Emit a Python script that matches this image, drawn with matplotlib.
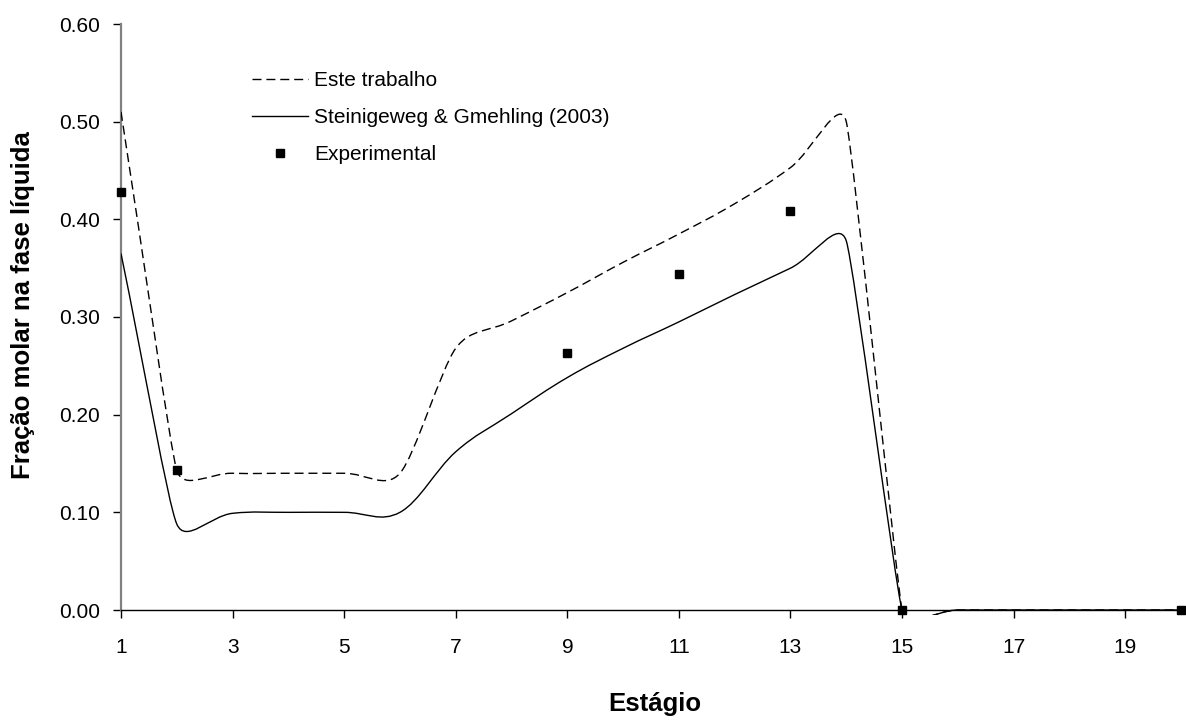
import numpy as np
import matplotlib
matplotlib.use('Agg')
import matplotlib.pyplot as plt
from matplotlib.path import Path
from matplotlib.patches import PathPatch, Rectangle
from matplotlib.lines import Line2D
from matplotlib.ticker import FormatStrFormatter

plt.rcParams['font.family'] = ['Liberation Sans', 'DejaVu Sans']

# Data (stage 1..20)
stages = np.arange(1, 21)
este_trabalho = [0.510, 0.143, 0.140, 0.140, 0.140, 0.140, 0.268, 0.296, 0.325, 0.356,
                 0.385, 0.416, 0.453, 0.500, 0.0, 0.0, 0.0, 0.0, 0.0, 0.0]
steinigeweg = [0.365, 0.088, 0.099, 0.100, 0.100, 0.100, 0.162, 0.201, 0.238, 0.268,
               0.295, 0.323, 0.350, 0.378, 0.0, 0.0, 0.0, 0.0, 0.0, 0.0]
exp_stages = [1, 2, 9, 11, 13, 15, 20]
exp_values = [0.428, 0.143, 0.263, 0.344, 0.409, 0.0, 0.0]

x_ticks = [1, 3, 5, 7, 9, 11, 13, 15, 17, 19]
y_ticks = [0.0, 0.1, 0.2, 0.3, 0.4, 0.5, 0.6]


# Excel-like smoothed line: cubic Bezier segments built in display space
def smooth_path(ax, x, y, k=0.4):
    pts = ax.transData.transform(np.column_stack([x, y]))
    n = len(pts)
    seg = np.hypot(*np.diff(pts, axis=0).T)

    def unit(v):
        norm = np.hypot(v[0], v[1])
        return v / norm if norm > 0 else v

    verts = [pts[0]]
    for i in range(n - 1):
        p0, p1 = pts[i], pts[i + 1]
        t0 = unit(pts[min(i + 1, n - 1)] - pts[max(i - 1, 0)])
        t1 = unit(pts[min(i + 2, n - 1)] - pts[i])
        # control arm length limited by the shorter neighbouring segment
        a0 = k * min(seg[i], seg[i - 1]) if i > 0 else k * seg[i]
        a1 = k * min(seg[i], seg[i + 1]) if i + 1 < n - 1 else k * seg[i]
        verts += [p0 + t0 * a0, p1 - t1 * a1, p1]
    verts = ax.transData.inverted().transform(np.array(verts))
    codes = [Path.MOVETO] + [Path.CURVE4] * (3 * (n - 1))
    return Path(verts, codes)


fig = plt.figure(figsize=(11.86, 7.2), dpi=100)
ax = fig.add_axes([121 / 1186, 1 - 610 / 720, 1060 / 1186, 586 / 720])
ax.set_xlim(1, 20)
ax.set_ylim(0, 0.6)

clip = Rectangle((0, -0.009), 1, 1.02, transform=ax.transAxes, visible=False)
ax.add_patch(clip)

p1 = PathPatch(smooth_path(ax, stages, steinigeweg), fill=False, edgecolor='black',
               linewidth=1.0, zorder=3)
ax.add_patch(p1)
p1.set_clip_path(clip)

p2 = PathPatch(smooth_path(ax, stages, este_trabalho), fill=False, edgecolor='black',
               linewidth=1.0, linestyle=(0, (6.5, 3.5)), zorder=3)
ax.add_patch(p2)
p2.set_clip_path(clip)

ax.plot(exp_stages, exp_values, linestyle='none', marker='s', markersize=6,
        color='black', clip_on=False, zorder=4)

# axes styling
for side in ['top', 'right']:
    ax.spines[side].set_visible(False)
ax.spines['left'].set_color('#808080')
ax.spines['left'].set_linewidth(1.6)
ax.spines['bottom'].set_color('black')
ax.spines['bottom'].set_linewidth(1.0)

ax.set_xticks(x_ticks)
ax.set_yticks(y_ticks)
ax.yaxis.set_major_formatter(FormatStrFormatter('%.2f'))
ax.tick_params(axis='y', direction='out', length=6, width=1, color='black',
               labelsize=15, pad=9)
ax.tick_params(axis='x', direction='out', length=6, width=1, color='black',
               labelsize=15, pad=14)

fig.text(23 / 1186, 1 - 305 / 720, 'Fração molar na fase líquida', rotation=90,
         ha='center', va='center', fontsize=18.5, fontweight='bold')
fig.text(655 / 1186, 1 - 704 / 720, 'Estágio', ha='center', va='center',
         fontsize=18.5, fontweight='bold')

handles = [Line2D([], [], color='black', lw=1.0, linestyle=(0, (6.5, 3.5))),
           Line2D([], [], color='black', lw=1.0),
           Line2D([], [], color='black', linestyle='none', marker='s', markersize=6)]
labels = ['Este trabalho', 'Steinigeweg & Gmehling (2003)', 'Experimental']
ax.legend(handles, labels, loc='upper left', bbox_to_anchor=(252 / 1186, 1 - 71 / 720),
          bbox_transform=fig.transFigure, frameon=False, fontsize=15,
          handlelength=2.7, handletextpad=0.3, labelspacing=0.86,
          borderpad=0, borderaxespad=0, numpoints=1)

fig.savefig('out.png', dpi=100)
